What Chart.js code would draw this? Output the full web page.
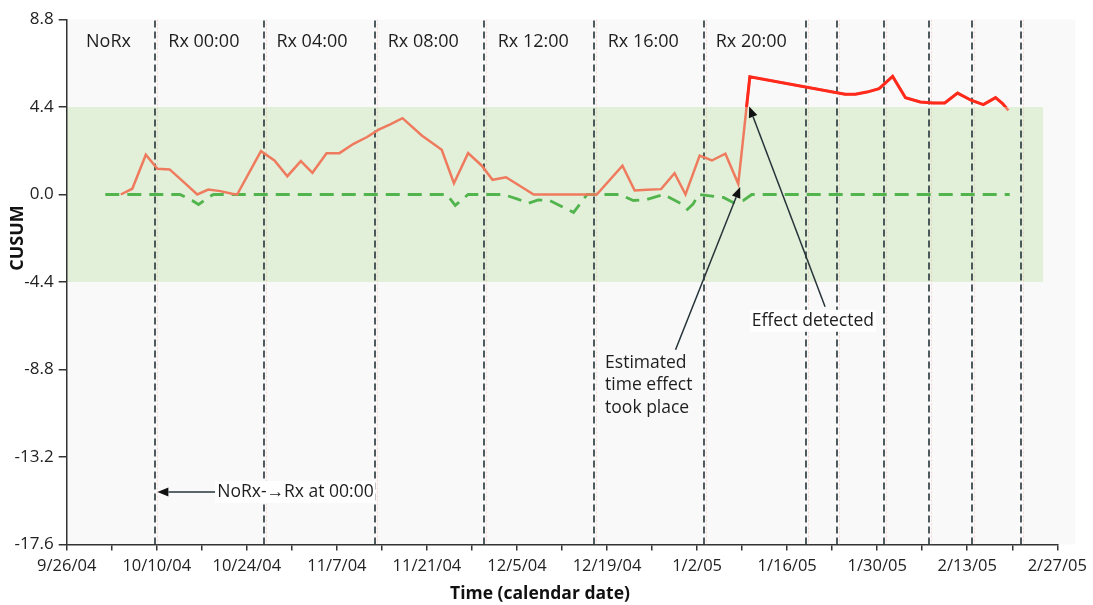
<!DOCTYPE html>
<html><head><meta charset="utf-8">
<script src="https://cdn.jsdelivr.net/npm/chart.js@4.4.0/dist/chart.umd.min.js"></script>
<style>html,body{margin:0;padding:0;background:#fff;}canvas{display:block;}</style>
</head><body>
<canvas id="c" width="1093" height="605"></canvas>
<script>
// ---- data ----
const xTickDays = [0,7,14,21,28,35,42,49,56,63,70,77,84,91,98,105,112,119,126,133,140,147,154];
const majorTickDays = [0,14,28,42,56,70,84,98,112,126,140,154];
const xTickLabels = ['9/26/04','10/10/04','10/24/04','11/7/04','11/21/04','12/5/04','12/19/04','1/2/05','1/16/05','1/30/05','2/13/05','2/27/05'];
const yTickValues = [-17.6,-13.2,-8.8,-4.4,0,4.4,8.8];
const yTickLabels = ['-17.6','-13.2','-8.8','-4.4','0.0','4.4','8.8'];

// upper CUSUM (days since 9/26/04, value)
const upperDays = [8.4,10.2,12.3,14.1,16.0,18.2,20.3,22.0,23.9,25.7,26.5,30.2,32.3,34.3,36.4,38.2,40.4,42.4,44.6,46.7,48.5,50.3,52.2,55.2,58.3,60.2,62.4,64.5,66.2,68.3,72.6,80.9,82.4,86.4,88.3,90.2,92.4,94.5,96.2,98.4,100.3,102.4,104.4,106.2,121.0,122.6,124.4,126.3,128.4,130.4,132.7,134.7,136.5,138.5,140.6,142.5,144.4,145.5,146.4];
const upperValues = [0,0.29,2.0,1.29,1.26,0.62,0,0.25,0.17,0.04,0,2.18,1.71,0.92,1.68,1.09,2.07,2.08,2.55,2.89,3.26,3.53,3.84,2.97,2.25,0.57,2.08,1.46,0.74,0.87,0,0,0,1.45,0.2,0.24,0.27,1.07,0,1.96,1.71,2.05,0.54,5.92,5.04,5.04,5.15,5.32,5.94,4.87,4.65,4.6,4.6,5.1,4.74,4.52,4.87,4.57,4.23];
// lower CUSUM
const lowerDays = [6.0,17.6,19.5,20.5,22.0,22.8,59.1,60.4,62.4,67.9,70.0,71.8,73.3,75.1,77.2,78.8,80.9,86.0,88.1,90.2,92.8,95.6,96.5,97.4,98.2,102.1,103.6,105.2,106.5,146.6];
const lowerValues = [0,0,-0.3,-0.5,-0.15,0,0,-0.55,0,0,-0.22,-0.44,-0.27,-0.3,-0.64,-0.9,0,0,-0.3,-0.25,0,-0.47,-0.75,-0.47,0,-0.15,-0.4,-0.3,0,0];

// period boundaries (days) and labels
const boundaryDays = [13.8,30.7,48.0,64.9,81.9,99.0,114.9,119.7,127.0,134.0,140.8,148.3];
const periodLabels = ['NoRx','Rx 00:00','Rx 04:00','Rx 08:00','Rx 12:00','Rx 16:00','Rx 20:00'];
const periodLabelDays = [3.0,15.8,32.6,49.9,67.0,84.1,100.9];
const controlLimits = [-4.4,4.4];
const bandDays = [0,151.8];

const FONT = 'Open Sans';

function arrow(ctx, x1, y1, x2, y2){
  const ang = Math.atan2(y2-y1, x2-x1);
  const hl = 11, hw = 4.5;
  const bx = x2 - hl*Math.cos(ang), by = y2 - hl*Math.sin(ang);
  ctx.beginPath(); ctx.moveTo(x1,y1); ctx.lineTo(bx,by); ctx.stroke();
  ctx.beginPath();
  ctx.moveTo(x2,y2);
  ctx.lineTo(bx + hw*Math.sin(ang), by - hw*Math.cos(ang));
  ctx.lineTo(bx - hw*Math.sin(ang), by + hw*Math.cos(ang));
  ctx.closePath(); ctx.fill();
}

const deco = {
  id:'deco',
  beforeDraw(chart){
    const {ctx, chartArea:a, scales:{x,y}} = chart;
    ctx.save();
    ctx.fillStyle = '#f9f9f9';
    ctx.fillRect(a.left, a.top, a.right - a.left + 18, a.bottom - a.top);
    ctx.fillStyle = '#e2efd9';
    const x0 = x.getPixelForValue(bandDays[0]), x1 = x.getPixelForValue(bandDays[1]);
    const y0 = y.getPixelForValue(controlLimits[1]), y1 = y.getPixelForValue(controlLimits[0]);
    ctx.fillRect(x0, y0, x1-x0, y1-y0);
    ctx.restore();
  },
  beforeDatasetsDraw(chart){
    const {ctx, chartArea:a, scales:{x,y}} = chart;
    ctx.save();
    boundaryDays.forEach(d=>{
      const px = Math.round(x.getPixelForValue(d));
      ctx.strokeStyle = 'rgba(235,150,140,0.35)';
      ctx.lineWidth = 1; ctx.setLineDash([2,2]);
      ctx.beginPath(); ctx.moveTo(px+2.5, a.top); ctx.lineTo(px+2.5, a.bottom); ctx.stroke();
      ctx.strokeStyle = '#26343a';
      ctx.lineWidth = 1.6; ctx.setLineDash([7,4]);
      ctx.beginPath(); ctx.moveTo(px, a.top+1); ctx.lineTo(px, a.bottom); ctx.stroke();
    });
    ctx.setLineDash([]);
    ctx.fillStyle = '#1e1e1e';
    ctx.font = '18px "' + FONT + '"';
    ctx.textAlign = 'left'; ctx.textBaseline = 'middle';
    periodLabels.forEach((t,i)=>{
      ctx.fillText(t, x.getPixelForValue(periodLabelDays[i]), 42);
    });
    ctx.restore();
  },
  beforeDatasetDraw(chart,args){
    if(args.index===0){
      const {ctx, chartArea:a, scales:{y}} = chart;
      ctx.save();
      ctx.beginPath();
      ctx.rect(a.left, a.top, a.right-a.left, y.getPixelForValue(controlLimits[1]) - a.top);
      ctx.clip();
    }
  },
  afterDatasetDraw(chart,args){
    if(args.index===0) chart.ctx.restore();
  },
  afterDatasetsDraw(chart){
    const {ctx, scales:{x,y}} = chart;
    const P = (d,v)=>[x.getPixelForValue(d), y.getPixelForValue(v)];
    ctx.save();
    ctx.strokeStyle = '#26343a'; ctx.fillStyle = '#111'; ctx.lineWidth = 1.5;
    // arrows
    let a1 = P(23.1,-14.96), b1 = P(14.1,-14.96);
    arrow(ctx, a1[0], a1[1], b1[0], b1[1]);
    let a2 = P(94.65,-7.81), b2 = P(104.7,0.38);
    arrow(ctx, a2[0], a2[1], b2[0], b2[1]);
    let a3 = P(117.9,-5.64), b3 = P(106.1,4.43);
    arrow(ctx, a3[0], a3[1], b3[0], b3[1]);
    // texts
    ctx.font = '17.5px "' + FONT + '"';
    ctx.textAlign = 'left'; ctx.textBaseline = 'middle';
    const box = (t, px, py)=>{
      const w = ctx.measureText(t).width;
      ctx.fillStyle = '#ffffff';
      ctx.fillRect(px-2, py-11, w+4, 22);
      ctx.fillStyle = '#1e1e1e';
      ctx.fillText(t, px, py);
    };
    let p = P(23.4,-14.96); box('NoRx-\u2192Rx at 00:00', p[0], p[1]);
    p = P(106.5,-6.35); box('Effect detected', p[0], p[1]);
    ctx.fillStyle = '#1e1e1e';
    p = P(83.7,-8.45); ctx.fillText('Estimated', p[0], p[1]);
    p = P(83.7,-9.57); ctx.fillText('time effect', p[0], p[1]);
    p = P(83.7,-10.72); ctx.fillText('took place', p[0], p[1]);
    // axis titles
    ctx.fillStyle = '#111';
    ctx.textAlign = 'center';
    ctx.font = 'bold 17.5px "' + FONT + '"';
    ctx.fillText('Time (calendar date)', 540, 594);
    ctx.save();
    ctx.translate(18, 238);
    ctx.rotate(-Math.PI/2);
    ctx.font = 'bold 18px "' + FONT + '"';
    ctx.fillText('CUSUM', 0, 0);
    ctx.restore();
    ctx.restore();
  }
};

const toPts = (ds, vs)=> ds.map((d,i)=>({x:d, y:vs[i]}));

new Chart(document.getElementById('c'), {
  type:'line',
  data:{ datasets:[
    { label:'Upper CUSUM (signal)', data: toPts(upperDays, upperValues), borderColor:'#ff2a1c', borderWidth:3, pointRadius:0, tension:0, fill:false, order:0 },
    { label:'Upper CUSUM', data: toPts(upperDays, upperValues), borderColor:'#ef7b5e', borderWidth:2.5, pointRadius:0, tension:0, fill:false, order:1 },
    { label:'Lower CUSUM', data: toPts(lowerDays, lowerValues), borderColor:'#52b44c', borderWidth:2.8, borderDash:[14,8], pointRadius:0, tension:0, fill:false, order:2 }
  ]},
  options:{
    responsive:false, devicePixelRatio:1, animation:false,
    layout:{ padding:{ left:0, right:35.7, top:19.5, bottom:0 } },
    plugins:{ legend:{display:false}, tooltip:{enabled:false} },
    scales:{
      x:{
        type:'linear', min:0, max:154,
        afterBuildTicks:(s)=>{ s.ticks = xTickDays.map(v=>({value:v})); },
        afterFit:(s)=>{ s.height = 60.5; },
        ticks:{ autoSkip:false, maxRotation:0, minRotation:0, padding:6, color:'#222',
          font:{family:FONT, size:16.5},
          callback:(v)=>{ const i = majorTickDays.indexOf(v); return i>=0 ? xTickLabels[i] : ''; } },
        grid:{ drawOnChartArea:false, drawTicks:true, tickLength:6, color:'#333', lineWidth:1.5 },
        border:{ color:'#333', width:1.5 },
        title:{ display:false }
      },
      y:{
        min:-17.6, max:8.8,
        afterBuildTicks:(s)=>{ s.ticks = yTickValues.map(v=>({value:v})); },
        afterFit:(s)=>{ s.width = 66.7; },
        ticks:{ padding:5, color:'#222', font:{family:FONT, size:17},
          callback:(v)=>{ const i = yTickValues.indexOf(v); return i>=0 ? yTickLabels[i] : ''; } },
        grid:{ drawOnChartArea:false, drawTicks:true, tickLength:8, color:'#333', lineWidth:1.5 },
        border:{ color:'#333', width:1.5 }
      }
    }
  },
  plugins:[deco]
});
</script>
</body></html>
